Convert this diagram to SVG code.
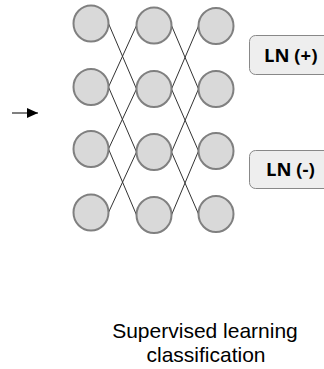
<svg xmlns="http://www.w3.org/2000/svg" width="324" height="369" viewBox="0 0 324 369">
<style>
.n{fill:#d9d9d9;stroke:#808080;stroke-width:2}
.e{stroke:#333;stroke-width:1;fill:none}
.lb{fill:#eeeeee;stroke:#888;stroke-width:1}
.lt{font-family:"Open Sans","Noto Sans",sans-serif;font-weight:bold;font-size:18.5px;fill:#000}
.cap{font-family:"Liberation Sans",Arial,sans-serif;font-size:21px;fill:#000;text-anchor:middle}
</style>
<defs>
<marker id="ah" markerWidth="11" markerHeight="10" refX="11" refY="5" orient="auto" markerUnits="userSpaceOnUse">
<path d="M0,0 L11,5 L0,10 Z" fill="#000"/>
</marker>
</defs>
<g id="connectors">
<line class="e" x1="108.5" y1="23.5" x2="136.5" y2="89"/>
<line class="e" x1="108.5" y1="87" x2="136.5" y2="25.5"/>
<line class="e" x1="108.5" y1="87" x2="136.5" y2="152"/>
<line class="e" x1="108.5" y1="149" x2="136.5" y2="89"/>
<line class="e" x1="108.5" y1="149" x2="136.5" y2="215"/>
<line class="e" x1="108.5" y1="212.5" x2="136.5" y2="152"/>
<line class="e" x1="171.5" y1="25.5" x2="198.5" y2="89"/>
<line class="e" x1="171.5" y1="89" x2="198.5" y2="26"/>
<line class="e" x1="171.5" y1="89" x2="198.5" y2="151"/>
<line class="e" x1="171.5" y1="152" x2="198.5" y2="89"/>
<line class="e" x1="171.5" y1="152" x2="198.5" y2="214"/>
<line class="e" x1="171.5" y1="215" x2="198.5" y2="151"/>
<line x1="12" y1="113" x2="38" y2="113" stroke="#000" stroke-width="1" marker-end="url(#ah)"/>
</g>
<g id="n11"><ellipse class="n" cx="91" cy="23.5" rx="17.5" ry="18"/></g>
<g id="n12"><ellipse class="n" cx="91" cy="87" rx="17.5" ry="18"/></g>
<g id="n13"><ellipse class="n" cx="91" cy="149" rx="17.5" ry="18"/></g>
<g id="n14"><ellipse class="n" cx="91" cy="212.5" rx="17.5" ry="18"/></g>
<g id="n21"><ellipse class="n" cx="154" cy="25.5" rx="17.5" ry="18"/></g>
<g id="n22"><ellipse class="n" cx="154" cy="89" rx="17.5" ry="18"/></g>
<g id="n23"><ellipse class="n" cx="154" cy="152" rx="17.5" ry="18"/></g>
<g id="n24"><ellipse class="n" cx="154" cy="215" rx="17.5" ry="18"/></g>
<g id="n31"><ellipse class="n" cx="216" cy="26" rx="17.5" ry="18"/></g>
<g id="n32"><ellipse class="n" cx="216" cy="89" rx="17.5" ry="18"/></g>
<g id="n33"><ellipse class="n" cx="216" cy="151" rx="17.5" ry="18"/></g>
<g id="n34"><ellipse class="n" cx="216" cy="214" rx="17.5" ry="18"/></g>
<g id="lnplus">
<rect class="lb" x="249.5" y="35.5" width="90" height="39" rx="6"/>
<text class="lt" x="264" y="62">LN (+)</text>
</g>
<g id="lnminus">
<rect class="lb" x="249.5" y="150.5" width="90" height="38" rx="6"/>
<text class="lt" x="266" y="176">LN (-)</text>
</g>
<g id="caption">
<text class="cap" x="205" y="338">Supervised learning</text>
<text class="cap" x="206" y="362">classification</text>
</g>
</svg>
